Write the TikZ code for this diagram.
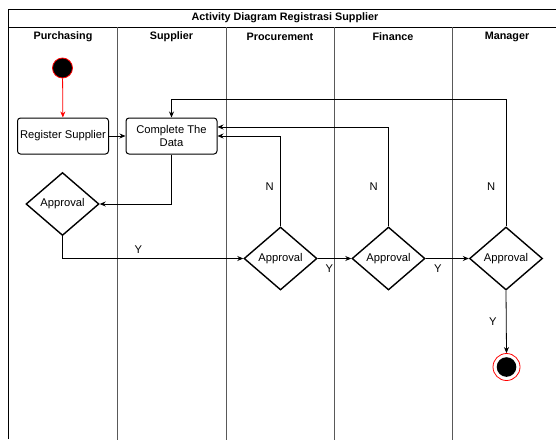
\documentclass[tikz,border=0pt]{standalone}
\usepackage{fontspec}
\setmainfont{Liberation Sans}
\usetikzlibrary{arrows.meta,shapes.geometric}

\begin{document}
\begin{tikzpicture}[>={Stealth[length=6pt,width=5pt]},x=1pt,y=-1pt,
	txt/.style={font=\fontsize{11.2}{13}\selectfont},
	head/.style={font=\bfseries\fontsize{10.8}{12.5}\selectfont},
	act/.style={txt,draw,line width=1pt,rounded corners=3pt,minimum width=91pt,minimum height=36pt,align=center,inner sep=1pt},
	decision/.style={txt,draw,diamond,line width=1.4pt,inner sep=0pt,minimum width=73pt,minimum height=63pt},
	lane/.style={black!65,line width=1pt},
	flow/.style={->,line width=0.8pt}]
		\useasboundingbox (0,0) rectangle (556,439);
		\clip (0,0) rectangle (556,439);
		\fill[white] (0,0) rectangle (556,439);
		
		\draw[line width=0.9pt] (8,439) -- (8,9.5) -- (562,9.5);
		\draw[line width=0.9pt] (8,27) -- (562,27);
		\draw[lane] (117,27) -- (117,445);
		\draw[lane] (226,27) -- (226,445);
		\draw[lane] (334,27) -- (334,445);
		\draw[lane] (452,27) -- (452,445);
		
		\node[head] (title) at (285,18) {Activity Diagram Registrasi Supplier};
		\node[head] (hpur) at (63,37) {Purchasing};
		\node[head] (hsup) at (171.5,37) {Supplier};
		\node[head] (hpro) at (280,37) {Procurement};
		\node[head] (hfin) at (393,37) {Finance};
		\node[head] (hman) at (507,37) {Manager};
		
		\node[circle,draw=red,fill=black,line width=0.8pt,minimum size=20pt,inner sep=0pt] (start) at (62.5,68) {};
		\node[act] (register) at (63,136) {Register Supplier};
		\node[act] (data) at (171.5,136) {Complete The\\Data};
		\node[decision] (apv1) at (62.5,204) {Approval};
		\node[decision] (apv2) at (280.5,258.5) {Approval};
		\node[decision] (apv3) at (388.5,258.5) {Approval};
		\node[decision] (apv4) at (506,258.5) {Approval};
		\node[circle,draw=red,line width=0.8pt,minimum size=27pt,inner sep=0pt] (final) at (506.5,367) {};
		\fill (final) circle (9.8pt);
		
		\draw[flow,red] (start) -- (register);
		\draw[flow] (register) -- (data);
		\draw[flow] (data.south) |- (apv1.east);
		\draw[flow] (apv1.south) |- node[txt,pos=0.71,above=1pt] {Y} (apv2.west);
		\draw[flow] (apv2.east) -- node[txt,pos=0.35,below=3pt] {Y} (apv3.west);
		\draw[flow] (apv3.east) -- node[txt,pos=0.28,below=3pt] {Y} (apv4.west);
		\draw[flow] (apv4.south) -- node[txt,pos=0.5,left=6pt] {Y} (final.north);
		
		\draw[flow] (apv2.north) |- node[txt,pos=0.22,left=3pt] {N} (data.east);
		\draw[flow] (apv3.north) |- node[txt,pos=0.2,left=7pt] {N} ([yshift=9pt]data.east);
		\draw[flow] (apv4.north) -- node[txt,pos=0.31,left=7pt] {N} ++(0,-127) -| (data.north);
	\end{tikzpicture}
\end{document}
